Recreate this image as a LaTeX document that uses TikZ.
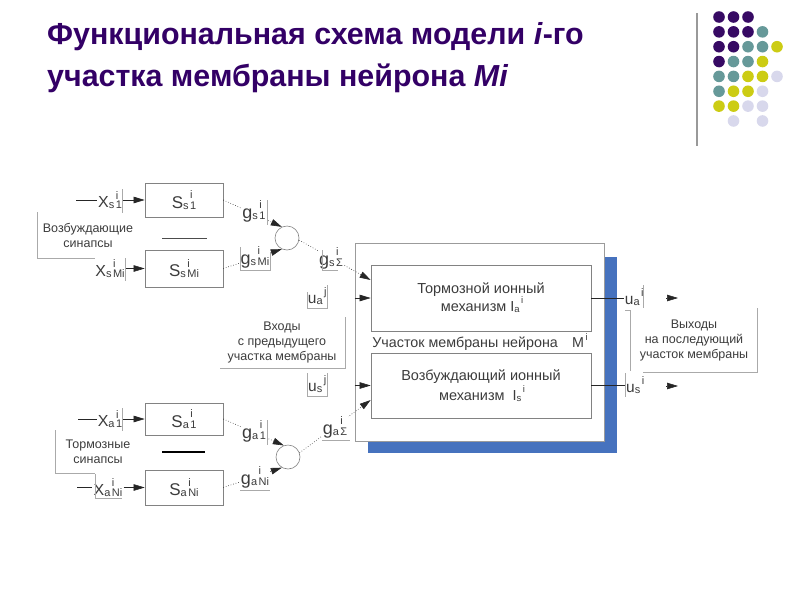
\documentclass[tikz,border=0pt]{standalone}
\usepackage{fontspec}
\setmainfont{Liberation Sans}
\usetikzlibrary{arrows.meta}
\definecolor{ttl}{RGB}{51,0,102}
\definecolor{dpur}{RGB}{55,10,100}
\definecolor{dteal}{RGB}{102,153,153}
\definecolor{dyel}{RGB}{204,204,20}
\definecolor{dlav}{RGB}{216,216,236}
\definecolor{txt}{RGB}{60,60,60}
\definecolor{boxc}{RGB}{130,130,130}
\definecolor{blueshd}{RGB}{70,114,190}
\definecolor{frmc}{RGB}{170,170,170}
\newcommand\fs[1]{\fontsize{#1}{#1}\selectfont}
\newcommand\ix[5][11]{#2\raisebox{-0.06em}{\fs{#1}#3}\kern1.5pt\rlap{\raisebox{0.55em}{\fs{#1}#4}}\raisebox{-0.06em}{\fs{#1}#5}}
\begin{document}
\begin{tikzpicture}[x=1pt,y=-1pt,
  box/.style={draw=boxc, line width=0.7pt, fill=white, minimum width=78pt, inner sep=0pt, text=txt, font=\fs{17}},
  lbl/.style={inner sep=1pt, text=txt, fill=white},
  note/.style={inner sep=1pt, text=txt, align=center, font=\fontsize{12.5}{15}\selectfont},
  frm/.style={draw=frmc, line width=0.6pt},
  arr/.style={-{Triangle[length=11pt,width=6.5pt]}, draw=black!85, line width=0.6pt},
  dotc/.style={dotted, draw=black!70, line width=0.7pt},
  summ/.style={circle, draw=boxc, line width=0.6pt, minimum size=24pt, inner sep=0pt}]
\useasboundingbox (0,0) rectangle (800,600);
% title
\node[anchor=base west, text=ttl, font=\fs{30.4}\bfseries, inner sep=0] (t1) at (47,44) {Функциональная схема модели \textit{i}-го};
\node[anchor=base west, text=ttl, font=\fs{30.4}\bfseries, inner sep=0] (t2) at (47,86) {участка мембраны нейрона \textit{Mi}};
% decoration
\draw[draw=black!40, line width=1.6pt] (697,13) -- (697,146);
\foreach \c/\r/\k in {0/0/dpur,1/0/dpur,2/0/dpur,
 0/1/dpur,1/1/dpur,2/1/dpur,3/1/dteal,
 0/2/dpur,1/2/dpur,2/2/dteal,3/2/dteal,4/2/dyel,
 0/3/dpur,1/3/dteal,2/3/dteal,3/3/dyel,
 0/4/dteal,1/4/dteal,2/4/dyel,3/4/dyel,4/4/dlav,
 0/5/dteal,1/5/dyel,2/5/dyel,3/5/dlav,
 0/6/dyel,1/6/dyel,2/6/dlav,3/6/dlav,
 1/7/dlav,3/7/dlav}
 \fill[\k] ({719+14.5*\c},{17+14.85*\r}) circle (5.8pt);
% membrane block
\fill[blueshd] (368,257) rectangle (617,453);
\node[draw=boxc!80, line width=0.7pt, fill=white, minimum width=249pt, minimum height=198pt, inner sep=0pt] (outer) at (479.5,342) {};
\node[draw=boxc, line width=0.7pt, minimum width=220pt, minimum height=66pt, text=txt, align=center, font=\fontsize{14.5}{18}\selectfont] (ta) at (481,298) {Тормозной ионный\\механизм \ix[9.5]{I}{a}{i}{}};
\node[draw=boxc, line width=0.7pt, minimum width=220pt, minimum height=65pt, text=txt, align=center, font=\fontsize{14.5}{20}\selectfont] (tb) at (481,385.5) {Возбуждающий ионный\\механизм\ \ \ix[9.5]{I}{s}{i}{}};
\node[text=txt, font=\fs{14.3}, inner sep=0] (mem) at (479,342) {Участок мембраны нейрона\quad\ix[9.5]{M}{}{i}{}};
% synapse boxes
\node[box, minimum height=34pt] (Ss1) at (184,200) {\ix{S}{s}{i}{1}};
\node[box, minimum height=37pt] (SsM) at (184,268.5) {\ix{S}{s}{i}{Mi}};
\node[box, minimum height=32pt] (Sa1) at (184,419) {\ix{S}{a}{i}{1}};
\node[box, minimum height=35pt] (SaN) at (184,487.5) {\ix{S}{a}{i}{Ni}};
\draw[draw=black!70, line width=0.8pt] (162,238) -- (207,238);
\draw[draw=black, line width=1.6pt] (162,452) -- (205,452);
% text notes
\node[note] (exc) at (88,235) {Возбуждающие\\синапсы};
\node[note] (inh) at (98,452) {Тормозные\\синапсы};
\node[note] (inp) at (282,342) {Входы\\с предыдущего\\участка мембраны};
\node[note] (outp) at (694,340) {Выходы\\на последующий\\участок мембраны};
% input labels
\node[lbl, font=\fs{16}] (Xs1) at (110,200) {\ix{X}{s}{i}{1}};
\node[lbl, font=\fs{16}] (XsM) at (110,268.5) {\ix{X}{s}{i}{Mi}};
\node[lbl, font=\fs{16}] (Xa1) at (110,419) {\ix{X}{a}{i}{1}};
\node[lbl, font=\fs{16}] (XaN) at (108,487.5) {\ix{X}{a}{i}{Ni}};
\coordinate (i1) at (76,200);
\coordinate (i3) at (78,419);
\coordinate (i4) at (77,487.5);
\draw[draw=black!85, line width=0.6pt] (i1) -- (Xs1);
\draw[draw=black!85, line width=0.6pt] (i3) -- (Xa1);
\draw[draw=black!85, line width=0.6pt] (i4) -- (XaN);
\draw[arr] (Xs1) -- (Ss1);
\draw[arr] (XsM) -- (SsM);
\draw[arr] (Xa1) -- (Sa1);
\draw[arr] (XaN) -- (SaN);
% summators
\node[summ] (c1) at (287,238) {};
\node[summ] (c2) at (288,457) {};
\draw[dotc, arr, dotted] (Ss1.east) -- (c1.115);
\draw[dotc, arr, dotted] (SsM.east) -- (c1.245);
\draw[dotc, arr, dotted] (c1.-10) -- ([yshift=18pt]ta.west);
\draw[dotc, arr, dotted] (Sa1.east) -- (c2.110);
\draw[dotc, arr, dotted] (SaN.east) -- (c2.240);
\draw[dotc, arr, dotted] (c2.20) -- ([yshift=-14.5pt]tb.west);
\node[lbl, font=\fs{18}] (gs1) at (254,211) {\ix{g}{s}{i}{1}};
\node[lbl, font=\fs{18}] (gsM) at (255,257) {\ix{g}{s}{i}{Mi}};
\node[lbl, font=\fs{18}] (gsS) at (331,258) {\ix{g}{s}{i}{Σ}};
\node[lbl, font=\fs{18}] (ga1) at (254,431) {\ix{g}{a}{i}{1}};
\node[lbl, font=\fs{18}] (gaN) at (255,477) {\ix{g}{a}{i}{Ni}};
\node[lbl, font=\fs{18}] (gaS) at (335,427) {\ix{g}{a}{i}{Σ}};
% previous segment inputs
\node[lbl, font=\fs{15.5}] (uaj) at (316,296) {\ix{u}{a}{j}{}};
\node[lbl, font=\fs{15.5}] (usj) at (316,384) {\ix{u}{s}{j}{}};
\draw[arr] (ta.west -| outer.west) -- (ta.west);
\draw[arr] (tb.west -| outer.west) -- (tb.west);
% outputs
\node[lbl, fill=none, font=\fs{15.5}] (uai) at (633,297) {\ix{u}{a}{i}{}};
\node[lbl, fill=none, font=\fs{15.5}] (usi) at (634,385) {\ix{u}{s}{i}{}};
\draw[draw=black!85, line width=0.6pt] (ta.east) -- (ta.east -| uai.west);
\draw[draw=black!85, line width=0.6pt] (tb.east) -- (tb.east -| usi.west);
\coordinate (oa1) at (666,298);
\coordinate (oa2) at (678,298);
\coordinate (os1) at (666,386);
\coordinate (os2) at (678,386);
\draw[arr] (oa1) -- (oa2);
\draw[arr] (os1) -- (os2);
% light frames of the text boxes
\draw[frm] (37,212) -- (37,258) -- (95,258);
\draw[frm] (55,430) -- (55,473) -- (95,473);
\draw[frm] (122,189) -- (122,213);
\draw[frm] (125,258) -- (125,281);
\draw[frm] (122,408) -- (122,431);
\draw[frm] (95,474) -- (95,498) -- (122,498);
\draw[frm] (267,200) -- (267,225);
\draw[frm] (240,247) -- (240,270) -- (270,270) -- (270,252);
\draw[frm] (322,250) -- (322,270) -- (338,270);
\draw[frm] (267,420) -- (267,445);
\draw[frm] (240,490) -- (270,490);
\draw[frm] (322,440) -- (350,440);
\draw[frm] (307,292) -- (307,308) -- (327,308) -- (327,285);
\draw[frm] (307,373) -- (307,396) -- (327,396) -- (327,373);
\draw[frm] (220,368) -- (345,368) -- (345,317);
\draw[frm] (643,285) -- (643,308);
\draw[frm] (625,310) -- (630,310) -- (630,371);
\draw[frm] (643,372) -- (757,372) -- (757,308);
\draw[frm] (625,373) -- (625,397);
\end{tikzpicture}
\end{document}
